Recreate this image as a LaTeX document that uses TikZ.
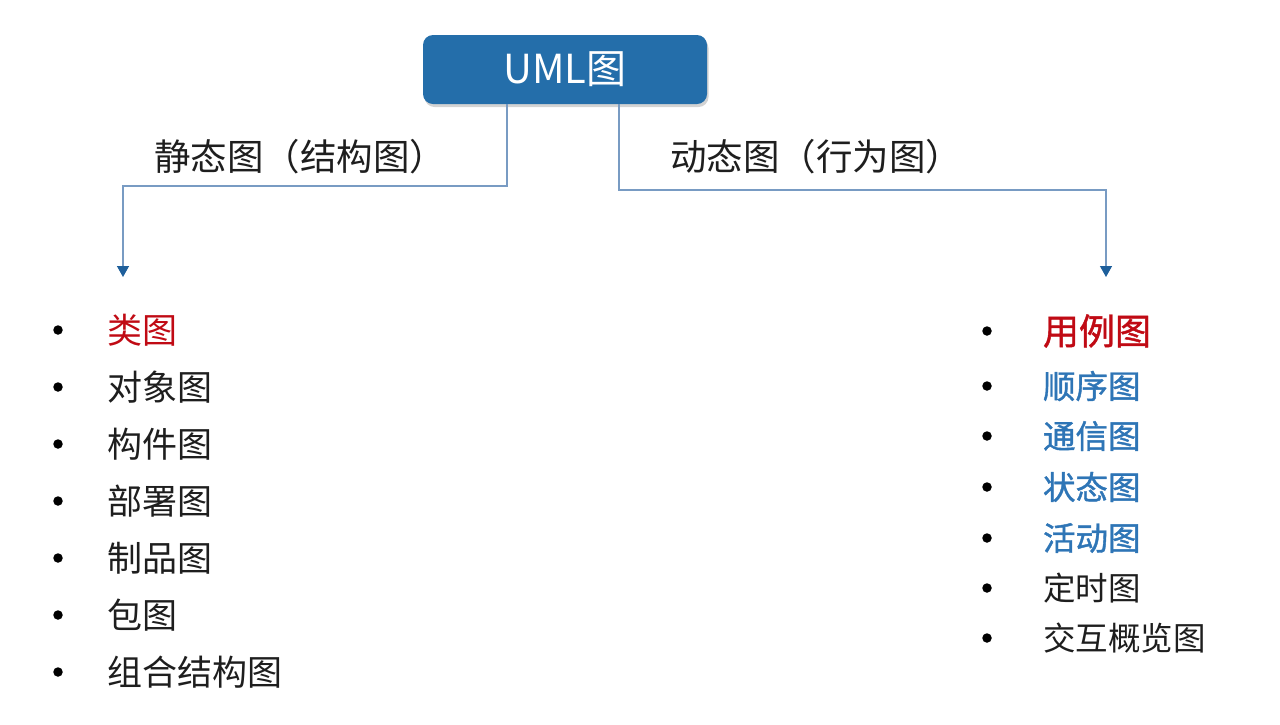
\documentclass[tikz,border=0pt]{standalone}
\usepackage{fontspec}
\setmainfont{Noto Sans CJK SC}
\newfontfamily\heavycjk[FakeBold=1.2]{Noto Sans CJK SC}
\usetikzlibrary{arrows.meta,positioning,shadows}

\definecolor{boxblue}{RGB}{36,110,170}
\definecolor{linkblue}{RGB}{120,155,195}
\definecolor{tipblue}{RGB}{30,95,155}
\definecolor{itemred}{RGB}{192,10,20}
\definecolor{itemblue}{RGB}{46,117,182}
\definecolor{itemgray}{RGB}{30,30,30}

\begin{document}
\begin{tikzpicture}[x=1pt, y=-1pt,
    every node/.style={inner sep=0pt, outer sep=0pt},
    topbox/.style={rectangle, rounded corners=10pt, fill=boxblue, text=white,
        minimum width=284pt, minimum height=69pt,
        font=\fontsize{40}{44}\selectfont,
        drop shadow={shadow xshift=1.5pt, shadow yshift=-3pt, opacity=0.35}},
    branch/.style={text=itemgray, font=\fontsize{36.5}{40}\selectfont},
    link/.style={draw=linkblue, line width=1.3pt,
        -{Triangle[width=12pt, length=11pt, color=tipblue]}},
    dot/.style={circle, fill=black, minimum size=9.5pt},
    stat/.style={anchor=west, text=itemgray, font=\fontsize{35}{40}\selectfont},
    usecase/.style={anchor=west, text=itemred, font=\fontsize{36}{40}\heavycjk},
    dyn/.style={anchor=west, text=itemblue, font=\fontsize{32.5}{40}\heavycjk},
    plain/.style={anchor=west, text=itemgray, font=\fontsize{32.5}{40}\selectfont}]
    \useasboundingbox (0,0) rectangle (1280,724);
    \node[topbox] (uml) at (565,69.5) {UML图};
    \node[branch] (static) at (300,157) {静态图（结构图）};
    \node[branch] (dynamic) at (816,157) {动态图（行为图）};
    % arrow tips above the two lists
    \coordinate (ltip) at (123,277);
    \coordinate (rtip) at (1106,277);
    \draw[link] ([xshift=-58pt]uml.south) -- ++(0,82) -| (ltip);
    \draw[link] ([xshift=54pt]uml.south) -- ++(0,86) -| (rtip);
    % static diagrams
    \foreach \name/\col [count=\i] in {类图/itemred, 对象图/itemgray, 构件图/itemgray,
        部署图/itemgray, 制品图/itemgray, 包图/itemgray, 组合结构图/itemgray} {
        \node[dot] (ldot\i) at (58,{273+57*\i}) {};
        \node[stat, text=\col] (left\i) at (107,{273+57*\i}) {\name};
    }
    % dynamic diagrams
    \foreach \name/\sty/\y [count=\i] in {用例图/usecase/331, 顺序图/dyn/386, 通信图/dyn/436,
        状态图/dyn/487, 活动图/dyn/538, 定时图/plain/588, 交互概览图/plain/638} {
        \node[dot] (rdot\i) at (987,\y) {};
        \node[\sty] (right\i) at (1043,\y) {\name};
    }
\end{tikzpicture}
\end{document}
